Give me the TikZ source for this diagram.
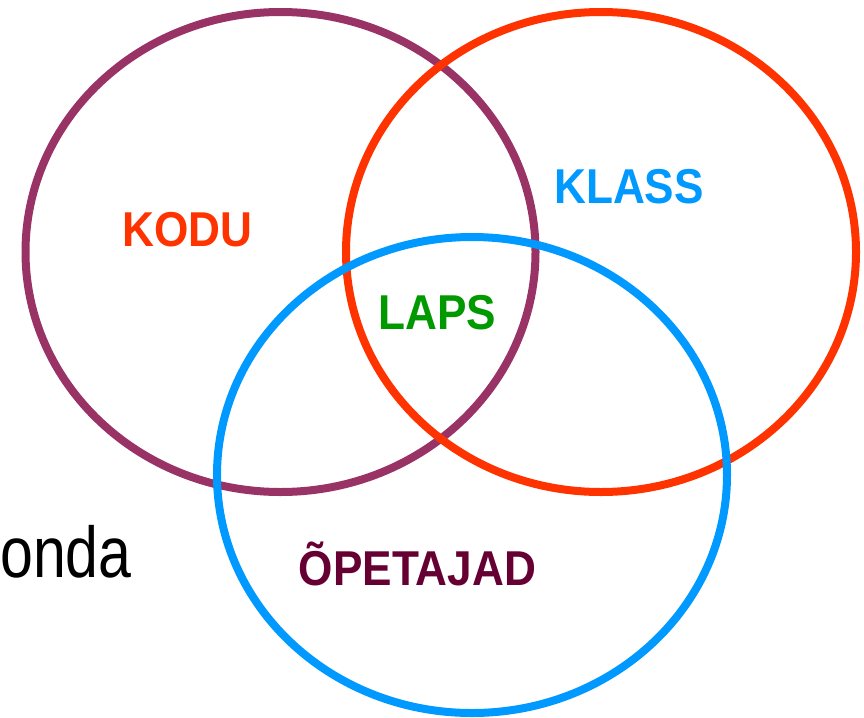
\documentclass[tikz,border=0pt]{standalone}
\usepackage{fontspec}
\setmainfont{Liberation Sans}
\usetikzlibrary{shapes.geometric}
\definecolor{cpurple}{HTML}{993366}
\definecolor{cred}{HTML}{FF3300}
\definecolor{cblue}{HTML}{0099FF}
\definecolor{cgreen}{HTML}{009900}
\definecolor{cmaroon}{HTML}{660033}
\tikzset{
  setring/.style={ellipse, draw=#1, line width=8pt, inner sep=0pt, minimum width=510pt, minimum height=480pt},
  setlabel/.style={anchor=base, inner sep=0pt, text=#1, font=\fontsize{48}{50}\selectfont\bfseries},
}
\newcommand{\sq}[1]{\scalebox{0.92}[1.02]{#1}}
\begin{document}
\begin{tikzpicture}[x=1pt,y=-1pt]
\useasboundingbox (0,0) rectangle (864,717);
\node[setring=cpurple] (kodu) at (280.5,252) {};
\node[setring=cred] (klass) at (601,252) {};
\node[setring=cblue, minimum height=476pt] (opet) at (472,475) {};
\node[setlabel=cred] (tkodu) at (187.5,246) {\sq{KODU}};
\node[setlabel=cblue] (tklass) at (629,203) {\sq{KLASS}};
\node[setlabel=cgreen] (tlaps) at (437.5,329) {\sq{LAPS}};
\node[setlabel=cmaroon] (topet) at (417.5,585) {\sq{ÕPETAJAD}};
\node[anchor=base west, inner sep=0pt, font=\fontsize{72}{76}\selectfont] (onda) at (0,577) {\scalebox{0.82}[1]{onda}};
\end{tikzpicture}
\end{document}
